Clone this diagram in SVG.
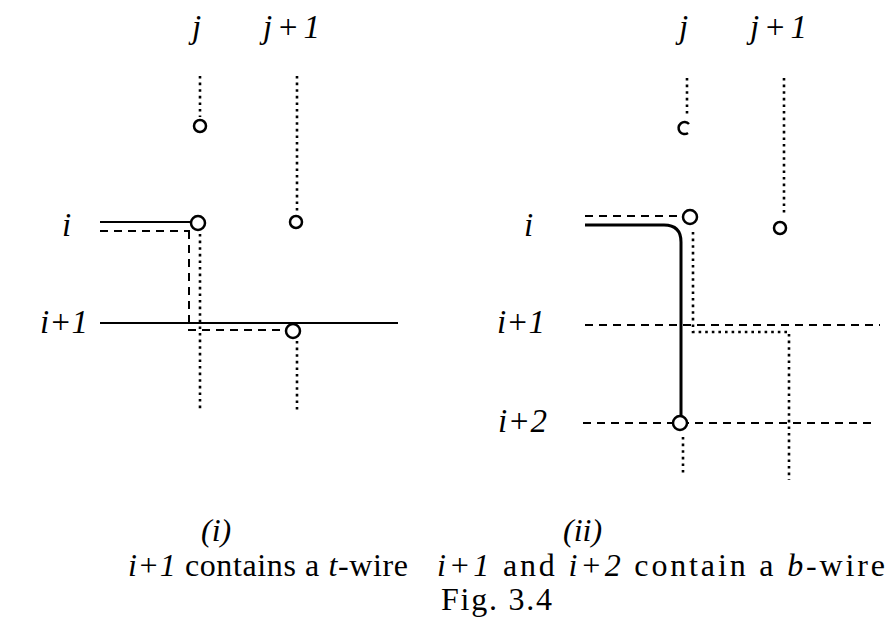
<svg xmlns="http://www.w3.org/2000/svg" width="895" height="637" viewBox="0 0 895 637">
<style>
text{font-family:'Liberation Serif','Times New Roman',Times,serif;fill:#000}
.lbl{font-style:italic;font-size:33px}
.cap{font-size:32px}
.it{font-style:italic}
.dot{stroke:#000;stroke-width:2.6;stroke-dasharray:2.6 4;fill:none}
.dash{stroke:#000;stroke-width:2;stroke-dasharray:8 6;fill:none}
.solid{stroke:#000;stroke-width:2;fill:none}
.wire{stroke:#000;stroke-width:3;fill:none}
.pin{stroke:#000;stroke-width:2.5;fill:#fff}
</style>
<rect width="895" height="637" fill="#fff"/>
<g id="connectors">
<line class="dot" x1="200" y1="76" x2="200" y2="117"/>
<line class="dot" x1="297" y1="76" x2="297" y2="214"/>
<line class="solid" x1="100" y1="222" x2="191" y2="222"/>
<line class="dash" x1="100" y1="231" x2="190" y2="231"/>
<polyline class="dash" points="189,231 189,330 286,330"/>
<line class="dot" x1="200" y1="234" x2="200" y2="412"/>
<line class="solid" x1="100" y1="323" x2="398" y2="323"/>
<line class="dot" x1="297" y1="341" x2="297" y2="412"/>
<line class="dot" x1="687" y1="78" x2="687" y2="114"/>
<line class="dot" x1="784" y1="78" x2="784" y2="216"/>
<line class="dash" x1="585" y1="216" x2="682" y2="216"/>
<line class="dash" x1="585" y1="325" x2="880" y2="325"/>
<line class="dash" x1="583" y1="423" x2="877" y2="423"/>
<polyline class="dot" points="693,232 693,332 789,332 789,480"/>
<line class="dot" x1="683" y1="437" x2="683" y2="473"/>
<path class="wire" d="M585,225 H664 Q681,225 681,242 V416"/>
</g>
<g id="labels-left">
<text class="lbl" x="192" y="38">j</text>
<text class="lbl" x="263" y="38" textLength="57" lengthAdjust="spacing">j+1</text>
<text class="lbl" x="62" y="236">i</text>
<text class="lbl" x="40" y="333" textLength="48" lengthAdjust="spacing">i+1</text>
</g>
<g id="labels-right">
<text class="lbl" x="679" y="38">j</text>
<text class="lbl" x="750" y="38" textLength="57" lengthAdjust="spacing">j+1</text>
<text class="lbl" x="524" y="236">i</text>
<text class="lbl" x="497" y="333" textLength="48" lengthAdjust="spacing">i+1</text>
<text class="lbl" x="498" y="432" textLength="49" lengthAdjust="spacing">i+2</text>
</g>
<g id="node-l-j-top"><circle class="pin" cx="200" cy="126" r="6"/></g>
<g id="node-l-j1-i"><circle class="pin" cx="296" cy="222" r="6"/></g>
<g id="node-l-j-i"><circle class="pin" cx="198" cy="223" r="7"/></g>
<g id="node-l-j1-i1"><circle class="pin" cx="293" cy="331" r="7"/></g>
<g id="node-r-j-top"><path d="M689,124 A6,6 0 1 0 688,133" stroke="#000" stroke-width="2.5" fill="none"/></g>
<g id="node-r-j1-i"><circle class="pin" cx="780" cy="228" r="6"/></g>
<g id="node-r-j-i"><circle class="pin" cx="690" cy="217" r="7"/></g>
<g id="node-r-j-i2"><circle class="pin" cx="680" cy="423" r="7"/></g>
<g id="captions">
<text class="cap it" x="201" y="541">(i)</text>
<text class="cap" x="128" y="576" textLength="280" lengthAdjust="spacing"><tspan class="it">i+1</tspan> contains a <tspan class="it">t</tspan>-wire</text>
<text class="cap it" x="563" y="541">(ii)</text>
<text class="cap" x="437" y="576" textLength="448" lengthAdjust="spacing"><tspan class="it">i+1</tspan> and <tspan class="it">i+2</tspan> contain a <tspan class="it">b</tspan>-wire</text>
<text class="cap" x="441" y="610" textLength="111" lengthAdjust="spacing">Fig. 3.4</text>
</g>
</svg>
